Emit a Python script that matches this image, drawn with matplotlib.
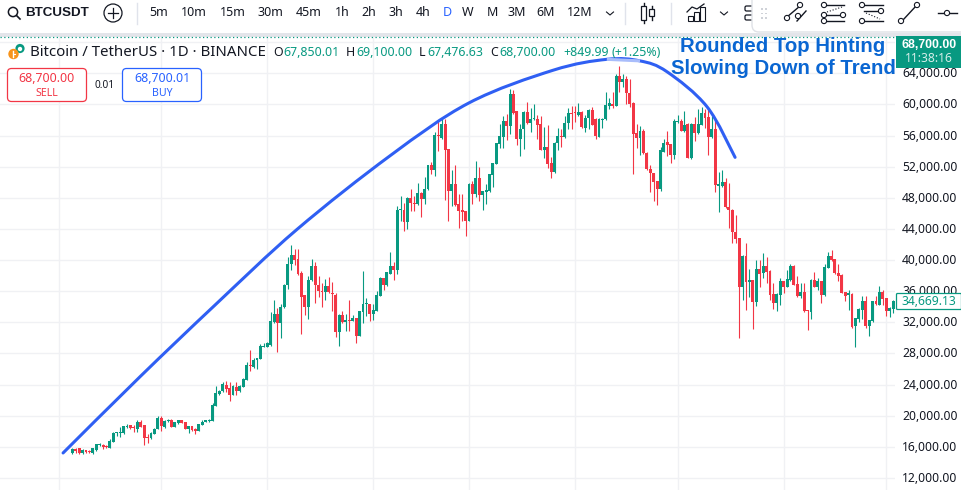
import matplotlib
matplotlib.use("Agg")
import matplotlib.pyplot as plt
from matplotlib.patches import Circle, FancyBboxPatch, Rectangle, PathPatch
from matplotlib.path import Path
from matplotlib.transforms import ScaledTranslation

# ---- price data, thousands of USDT, one entry per daily candle ----
direction = ("GRRGRRGGGR" "RGGGGGGRRG" "RRRGGGRGGR" "GGRRGRRGGG" "GGGGGRRGRG"
             "GGRGGGGGGG" "RGGGGRRRRG" "GRRRGRRRGR" "GRGRGGGRGG" "GRGGRGGRGR"
             "RGRGGRGRGR" "RGRRRRGRGR" "GGGGGGGRGR" "RGGRGGRRGR" "RGGRGGRRGR"
             "GGRRGGGGRG" "RGRRRRGRRR" "RRGGRRGGRG" "RGRGGRRGRG" "GRRRRRGRGR"
             "GRGRRRGGRG" "GRRGRRGRGR" "GGRRRRRGRG" "GGRGGRGRRGG")
body_top = [
 15.7,15.74,15.8,15.57,15.53,15.44,15.8,16.34,16.3,16.26,
 16.09,16.73,17.76,17.85,17.9,18.62,18.71,18.75,18.5,19.18,
 19.18,18.8,17.3,17.76,18.32,19.74,19.66,19.35,19.4,19.44,
 19.14,19.4,19.4,19.14,18.62,18.62,18.32,18.92,19.22,19.4,
 19.44,21.37,22.88,23.22,24.04,23.96,23.6,23.83,23.74,23.83,
 24.73,26.54,26.54,27.18,27.4,29.0,28.95,29.3,32.17,33.08,
 33.08,33.94,36.82,39.53,40.69,40.69,40.17,38.28,35.48,37.46,
 39.27,39.27,36.82,36.04,36.69,36.69,35.74,35.53,32.95,32.95,
 32.3,32.3,32.56,32.56,33.46,34.37,34.37,34.37,33.6,35.53,
 37.72,37.72,38.4,39.27,39.27,46.49,46.45,46.49,48.0,48.0,
 47.35,48.64,48.64,49.16,52.17,52.17,56.04,56.04,57.46,57.46,
 54.23,49.72,49.72,47.14,46.37,46.24,49.72,49.72,50.49,50.49,
 48.86,48.95,51.01,52.43,55.01,55.95,57.89,57.89,61.33,61.33,
 59.14,56.9,59.05,59.05,58.1,58.19,58.19,57.46,54.49,54.49,
 52.43,55.09,55.95,55.91,57.67,58.88,58.88,58.96,59.05,59.05,
 58.32,59.31,59.31,58.1,58.19,58.19,59.91,60.17,60.04,63.69,
 63.69,63.26,63.26,61.46,60.21,56.3,56.56,56.56,53.8,51.74,
 51.14,50.11,54.1,55.09,55.14,54.88,57.89,57.89,57.89,57.37,
 57.55,57.55,57.55,57.55,58.96,58.96,58.45,56.9,56.9,49.72,
 50.02,50.02,46.88,46.49,43.61,42.79,40.51,40.51,37.42,37.42,
 38.84,38.84,39.22,39.22,38.62,35.61,35.61,37.29,37.29,37.5,
 39.27,39.27,36.86,35.87,35.87,33.55,37.42,37.42,37.29,37.29,
 39.14,40.51,40.51,40.08,38.36,38.06,35.87,35.65,35.65,32.56,
 33.72,34.71,34.71,32.26,34.71,34.71,35.83,35.87,35.1,33.85,34.71]
body_bottom = [
 15.14,15.4,15.14,15.14,15.36,15.36,15.14,15.57,16.2,16.0,
 16.0,15.83,16.6,17.8,17.8,17.76,18.58,18.45,18.4,18.28,
 18.58,17.16,17.16,17.08,17.68,18.28,18.67,18.58,19.27,18.54,
 18.54,19.0,19.1,18.28,18.32,18.1,18.06,18.02,18.84,19.22,
 19.3,19.3,21.3,22.84,23.18,23.4,22.67,22.67,23.18,23.18,
 23.7,24.64,26.32,26.23,27.1,27.3,28.86,28.86,29.08,32.0,
 31.96,31.96,33.9,36.73,39.44,40.04,38.15,35.27,33.98,34.02,
 37.38,36.77,35.96,35.83,35.83,35.83,35.66,30.8,30.8,32.04,
 32.04,32.2,32.2,30.28,30.28,33.38,34.32,33.08,33.08,33.5,
 35.44,36.82,36.77,38.24,38.75,38.75,46.41,44.86,44.86,47.27,
 47.18,47.14,47.91,47.91,49.07,51.53,51.53,55.95,55.74,54.15,
 48.86,48.86,47.05,46.24,46.15,45.08,45.08,48.43,48.43,48.3,
 48.3,48.73,48.86,50.92,52.34,54.88,55.83,57.24,57.24,58.88,
 55.52,55.52,56.81,57.63,57.59,58.1,57.37,54.15,54.1,52.3,
 51.31,51.31,55.01,55.83,55.83,57.59,58.79,58.84,58.62,57.07,
 57.03,58.23,57.37,55.91,55.87,58.06,58.1,59.82,59.82,59.82,
 62.92,62.92,61.42,60.04,56.21,55.65,55.65,53.72,51.65,51.14,
 50.02,49.07,49.07,53.93,54.75,53.46,53.46,57.76,56.6,56.6,
 53.16,53.16,56.38,56.3,57.37,58.32,55.83,55.83,49.63,49.5,
 49.5,46.8,46.41,43.61,42.71,36.56,36.56,37.2,37.2,34.62,
 34.62,38.19,38.28,38.49,35.48,34.49,34.49,35.53,36.56,36.56,
 37.42,36.77,35.35,35.35,33.42,33.42,33.33,36.56,36.56,35.48,
 35.48,39.01,40.0,38.28,37.98,35.78,35.35,35.57,31.4,31.48,
 32.43,33.55,31.48,31.48,32.13,34.32,34.28,35.05,33.42,33.42,33.76]
highs = [
 15.8,15.9,15.9,15.7,15.6,15.57,15.9,16.4,16.47,16.34,
 16.17,17.0,17.85,17.9,18.5,18.7,18.97,18.8,18.75,19.44,
 19.5,18.84,17.6,17.85,18.4,19.96,19.96,19.44,19.53,19.57,
 19.2,19.45,19.45,19.2,18.65,18.65,18.37,18.97,19.44,19.45,
 19.53,21.6,23.83,23.3,24.26,24.4,24.26,23.9,24.26,23.9,
 24.86,26.84,28.47,27.4,27.45,29.16,29.3,29.42,33.38,34.88,
 33.8,34.37,36.95,40.39,41.98,41.46,41.46,38.54,35.53,37.89,
 40.17,39.74,37.98,37.03,37.55,37.85,37.12,35.74,33.0,33.46,
 33.08,34.88,32.95,32.6,33.5,38.62,35.1,34.4,34.37,36.04,
 37.8,37.75,38.45,41.03,39.74,46.92,48.21,47.35,48.05,49.07,
 48.21,49.85,48.7,50.71,52.2,52.6,56.47,57.89,58.45,58.1,
 54.3,51.53,52.17,48.52,48.43,46.3,49.85,50.15,52.69,51.96,
 48.9,49.72,51.1,52.5,55.05,57.46,58.53,58.75,61.97,61.89,
 59.2,57.46,59.18,60.34,59.48,60.04,58.62,58.53,57.16,57.33,
 53.29,55.15,57.03,56.86,58.53,59.52,59.82,59.82,60.25,59.1,
 58.7,59.39,59.61,58.2,58.25,58.25,61.54,60.77,61.54,63.91,
 64.9,63.91,63.69,63.26,60.3,57.46,57.24,56.81,53.9,52.2,
 51.22,50.2,54.54,55.52,56.6,54.95,58.1,58.66,58.1,59.18,
 57.67,57.6,58.45,59.39,59.61,59.39,59.7,58.53,58.1,51.35,
 51.53,50.58,49.85,46.55,45.8,42.85,40.6,42.15,38.79,37.45,
 40.0,40.0,40.86,40.34,38.7,37.07,35.7,37.63,37.35,38.7,
 39.44,39.4,37.93,36.99,36.99,33.6,37.55,38.41,37.72,37.35,
 39.44,41.07,41.29,40.15,39.44,38.19,35.95,36.13,35.78,32.6,
 33.8,35.35,35.44,32.3,34.75,35.35,36.64,36.13,35.15,33.9,34.92]
lows = [
 15.1,15.2,15.1,15.1,15.2,15.2,15.1,15.5,16.1,15.7,
 15.87,15.8,16.55,17.4,17.3,17.7,18.45,18.3,17.9,17.94,
 18.5,16.2,16.43,17.0,17.6,18.25,18.0,18.37,19.18,18.5,
 18.5,18.95,19.05,18.25,17.8,18.05,17.63,18.0,18.8,19.15,
 19.14,19.25,21.25,22.67,23.1,23.1,21.9,22.6,22.67,23.1,
 23.65,24.6,25.76,26.1,26.0,27.25,28.78,28.78,29.0,31.9,
 28.2,30.02,33.85,36.34,38.75,39.4,38.1,30.54,32.95,32.47,
 37.25,34.54,35.3,33.9,34.88,35.74,33.46,30.15,28.99,31.96,
 30.88,30.88,32.1,29.38,30.2,31.96,32.8,32.2,32.3,33.45,
 35.4,36.2,36.7,38.2,37.46,38.15,44.99,43.79,44.04,46.28,
 46.28,47.1,45.59,47.14,49.0,51.01,50.79,54.02,55.52,47.7,
 44.99,46.92,47.0,44.13,44.99,43.05,45.0,47.14,48.13,47.57,
 46.41,47.14,48.8,49.38,52.3,54.36,54.36,55.4,56.17,58.8,
 54.75,53.37,54.23,57.55,56.47,58.0,55.52,54.1,53.16,51.78,
 50.49,51.25,54.15,54.58,55.74,56.81,56.81,57.8,58.53,56.99,
 56.47,56.81,57.33,55.52,55.8,57.03,58.05,59.39,59.48,59.75,
 61.54,62.19,60.04,59.7,51.01,54.36,53.46,53.63,51.57,48.77,
 47.57,47.05,48.82,53.85,53.37,52.43,52.94,57.67,56.55,56.5,
 53.07,52.94,55.31,56.2,57.3,57.03,53.46,55.74,48.77,46.15,
 49.42,46.71,44.13,42.15,42.15,29.98,34.84,33.63,35.27,31.1,
 34.06,36.47,37.72,37.07,34.92,33.76,33.46,34.19,35.7,36.47,
 37.33,36.73,35.27,35.18,33.33,30.97,32.39,36.47,36.13,34.49,
 35.4,38.92,39.91,38.19,37.29,35.7,34.71,33.55,31.31,28.82,
 32.04,32.47,31.31,30.24,32.04,34.24,34.19,34.19,32.82,32.69,33.25]

# hand-drawn rounded-top curve: candle index, price
arc_index = [-2.7, 19.8, 41.7, 65.6, 92.9, 116, 140.6, 156.3, 166, 173.9, 185.6, 193.8]
arc_price = [15.2, 25.0, 34.2, 43.9, 53.4, 60.2, 64.4, 65.8, 65.6, 64.2, 59.7, 53.2]

price_ticks = [12, 16, 20, 24, 28, 32, 36, 40, 44, 48, 52, 56, 60, 64, 68]
month_starts = [-4, 26, 57, 88, 116, 147, 177, 208, 238]

assert len(direction) == len(body_top) == len(body_bottom) == len(highs) == len(lows)

GREEN, RED, BLUE = "#089981", "#f23645", "#2962ff"
DARK = "#131722"
plt.rcParams["font.family"] = ["Noto Sans", "DejaVu Sans"]

W, H = 962, 493
fig = plt.figure(figsize=(W / 100, H / 100), dpi=100, facecolor="white")
PX_L, PX_R, PX_T, PX_B = 0, 895, 37, 490
ax = fig.add_axes([PX_L / W, 1 - PX_B / H, (PX_R - PX_L) / W, (PX_B - PX_T) / H])
ax.set_xlim(-21.14, 240.56)
ax.set_ylim(10.44, 68.67)
for s in ax.spines.values():
    s.set_visible(False)
ax.set_xticks(month_starts)
ax.tick_params(axis="x", length=0, labelbottom=False)
ax.yaxis.tick_right()
ax.set_yticks(price_ticks)
ax.set_yticklabels([f"{t * 1000:,.2f}" if t != 68 else "" for t in price_ticks],
                   fontsize=8.7, color=DARK)
ax.tick_params(axis="y", length=0, pad=5)
up_px = ScaledTranslation(0, 1 / 100, fig.dpi_scale_trans)
for lab in ax.get_yticklabels():
    lab.set_transform(lab.get_transform() + up_px)
ax.grid(True, color="#f0f1f4", lw=1.0)
ax.set_axisbelow(True)

xs = list(range(len(direction)))
colors = [GREEN if d == "G" else RED for d in direction]
ax.vlines(xs, lows, highs, colors=colors, lw=0.8, zorder=2)
bars = ax.bar(xs, [max(t - b, 0.13) for t, b in zip(body_top, body_bottom)],
              bottom=body_bottom, width=0.85, color=colors, lw=0, zorder=3)
for b in bars:
    b.set_snap(True)


def smooth_path(px, py):
    """Catmull-Rom curve through the read-off points."""
    verts, codes = [(px[0], py[0])], [Path.MOVETO]
    n = len(px)
    for i in range(n - 1):
        a, c = max(i - 1, 0), min(i + 2, n - 1)
        verts += [(px[i] + (px[i + 1] - px[a]) / 6, py[i] + (py[i + 1] - py[a]) / 6),
                  (px[i + 1] - (px[c] - px[i]) / 6, py[i + 1] - (py[c] - py[i]) / 6),
                  (px[i + 1], py[i + 1])]
        codes += [Path.CURVE4] * 3
    return Path(verts, codes)


ax.add_patch(PathPatch(smooth_path(arc_index, arc_price), fc="none", ec="#2f5ff3", lw=2.2,
                       capstyle="round", joinstyle="round", zorder=4))
# the stretch at the crest looks paler in the source
ax.add_patch(PathPatch(smooth_path(arc_index[7:9], arc_price[7:9]), fc="none", ec="#a9bdfb", lw=2.2,
                       capstyle="butt", zorder=5))

# ---- overlay in pixel coordinates for the trading-terminal furniture ----
ov = fig.add_axes([0, 0, 1, 1], facecolor="none")
ov.set_xlim(0, W)
ov.set_ylim(H, 0)
ov.axis("off")

ov.add_patch(Rectangle((0, 0), W, 33, fc="white", ec="none", zorder=1))
ov.add_patch(Rectangle((0, 33), W, 3.5, fc="#e3e5ea", ec="none", zorder=1))
ov.plot([0, 896], [37, 37], color=GREEN, lw=0.9, ls=(0, (1, 2)), zorder=2)
ov.add_patch(FancyBboxPatch((752, -20), 240, 52, boxstyle="round,pad=0,rounding_size=7",
                            fc="white", ec="#dfe1e6", lw=1, zorder=7))


def t(x, y, s, size=9, color=DARK, ha="left", weight="normal", family=None, z=9):
    return ov.text(x, y, s, fontsize=size, color=color, ha=ha, va="center",
                   fontweight=weight, family=family, zorder=z)


def seg(xa, ya, xb, yb, color=DARK, lw=1.0, z=8, **k):
    ov.plot([xa, xb], [ya, yb], color=color, lw=lw, zorder=z, **k)


def dot(x, y, r=2.6):
    ov.add_patch(Circle((x, y), r, fc="white", ec=DARK, lw=0.8, zorder=9))


# search + symbol
ov.add_patch(Circle((13, 12), 4.6, fc="none", ec=DARK, lw=1.1, zorder=5))
seg(16.5, 15.5, 20, 19, lw=1.2)
t(25, 13, "BTCUSDT", size=9.6, weight="bold", family="Liberation Sans")
ov.add_patch(Circle((113, 13), 9, fc="none", ec=DARK, lw=0.9, zorder=5))
seg(108, 13, 118, 13, lw=0.9)
seg(113, 8, 113, 18, lw=0.9)
for sx in (137, 625, 671):
    seg(sx, 3, sx, 24, color="#e0e3eb", lw=1)

intervals = ["5m", "10m", "15m", "30m", "45m", "1h", "2h", "3h", "4h", "D", "W", "M", "3M", "6M", "12M"]
interval_x = [159, 194, 233, 270, 309, 342, 369, 396, 423, 447, 468, 492, 517, 546, 580]
for lab, x in zip(intervals, interval_x):
    t(x, 13, lab, size=9, ha="center", color="#2962ff" if lab == "D" else DARK)
for cx in (610, 724):
    ov.plot([cx - 3.5, cx, cx + 3.5], [12, 15, 12], color=DARK, lw=0.8, zorder=5)

# candle icon
seg(644, 3, 644, 23, z=5)
ov.add_patch(Rectangle((641.5, 6), 5, 14, fc="white", ec=DARK, lw=0.9, zorder=6))
seg(652, 6, 652, 20, z=5)
ov.add_patch(Rectangle((649.5, 9), 5, 7, fc="white", ec=DARK, lw=0.9, zorder=6))
# indicators icon
ov.plot([687, 692, 697, 704], [12, 7, 9, 4], color=DARK, lw=0.9, zorder=5)
for bx, bh in ((688, 5), (694, 9), (700, 14)):
    ov.add_patch(Rectangle((bx, 21 - bh), 5, bh, fc="white", ec=DARK, lw=0.8, zorder=6))
# template icon, partly under the floating panel
ov.add_patch(FancyBboxPatch((745, 6), 10, 5, boxstyle="round,pad=0,rounding_size=1.5", fc="white", ec=DARK, lw=0.9, zorder=6))
ov.add_patch(FancyBboxPatch((745, 15), 10, 5, boxstyle="round,pad=0,rounding_size=1.5", fc="white", ec=DARK, lw=0.9, zorder=6))
# drag dots
for dx in (761, 765.5):
    for dy in (8, 12.5, 17):
        ov.add_patch(Rectangle((dx, dy), 1.6, 1.6, fc="#cfd2d8", ec="none", zorder=9))
# drawing tools
seg(787, 17, 800, 6); dot(787, 18); dot(800, 5)
seg(797, 21, 806, 11); dot(798, 16)
for yy in (5, 21):
    seg(825, yy, 844, yy)
    dot(824, yy)
seg(825, 15, 843, 15); dot(843, 15); dot(824, 15)
seg(827, 12, 842, 7, ls=":", lw=0.8)
seg(864, 5, 883, 5); dot(862, 5)
seg(864, 11, 880, 11); dot(881, 11)
seg(864, 21, 883, 21); dot(862, 21)
seg(866, 13, 880, 19, ls=":", lw=0.8)
seg(903, 20, 916, 6); dot(901, 21); dot(917, 5)
seg(938, 13, 957, 13); dot(947, 13)

# legend logo
ov.add_patch(Circle((20, 48.5), 4.6, fc=GREEN, ec="none", zorder=4))
ov.add_patch(Circle((20, 49), 2.2, fc="white", ec="none", zorder=4))
ov.add_patch(Circle((13.5, 54), 5.2, fc="#f7931a", ec="none", zorder=5))
seg(13.5, 51, 13.5, 57, color="white", lw=1.0, z=6)
seg(13.5, 54, 15.5, 54, color="white", lw=0.8, z=6)

t(30, 52, "Bitcoin / TetherUS · 1D · BINANCE", size=10.8)
for lx, ltr, vx, val in ((273, "O", 283, "67,850.01"), (346, "H", 356, "69,100.00"),
                         (419, "L", 427, "67,476.63"), (490, "C", 499, "68,700.00")):
    t(lx, 52, ltr, size=8.9)
    t(vx, 52, val, size=8.9, color=GREEN)
t(563, 52, "+849.99", size=8.9, color=GREEN)
t(612, 52, "(+1.25%)", size=8.9, color=GREEN)

# order buttons
ov.add_patch(FancyBboxPatch((7.5, 68.5), 79, 33, boxstyle="round,pad=0,rounding_size=4",
                            fc="white", ec=RED, lw=0.9, zorder=5))
ov.add_patch(FancyBboxPatch((122.5, 68.5), 79, 33, boxstyle="round,pad=0,rounding_size=4",
                            fc="white", ec=BLUE, lw=0.9, zorder=5))
t(47, 78.5, "68,700.00", size=8.9, color=RED, ha="center")
t(47, 93, "SELL", size=7.6, color=RED, ha="center")
t(162, 78.5, "68,700.01", size=8.9, color=BLUE, ha="center")
t(162, 93, "BUY", size=7.6, color=BLUE, ha="center")
t(105, 85.5, "0.01", size=7.2, ha="center")

# annotation
t(783, 46, "Rounded Top Hinting", size=14.7, color="#0a66d2", ha="center", weight="bold", family="Liberation Sans", z=12)
t(783, 68, "Slowing Down of Trend", size=14.7, color="#0a66d2", ha="center", weight="bold", family="Liberation Sans", z=12)

# price tags
ov.add_patch(Rectangle((896, 36), 66, 32, fc=GREEN, ec="none", zorder=10))
t(929, 45, "68,700.00", size=8.9, color="white", ha="center", weight="bold", family="Liberation Sans", z=11)
t(929, 59, "11:38:16", size=8.7, color="#d5eee9", ha="center", z=11)
ov.add_patch(FancyBboxPatch((896.5, 293.5), 65, 16, boxstyle="round,pad=0,rounding_size=1",
                            fc="white", ec=GREEN, lw=0.9, zorder=10))
t(929, 301.5, f"{34669.13:,.2f}", size=8.7, color=GREEN, ha="center", z=11)

fig.savefig("out.png", dpi=100, facecolor="white")
